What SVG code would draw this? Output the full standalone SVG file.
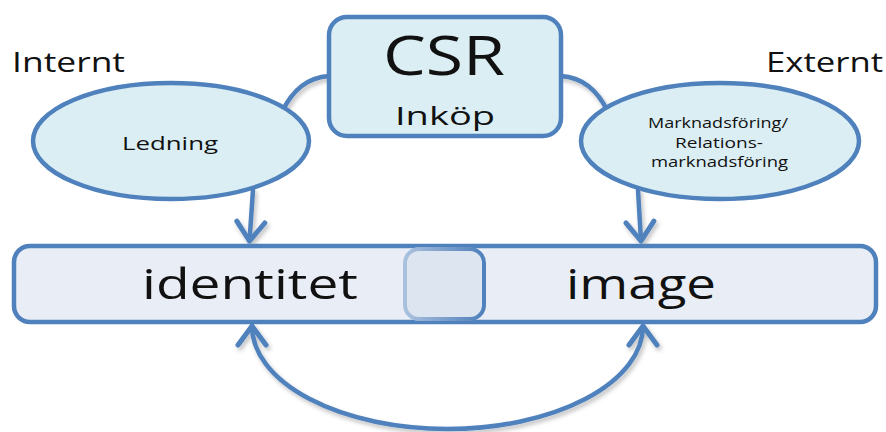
<svg xmlns="http://www.w3.org/2000/svg" width="886" height="432" viewBox="0 0 886 432">
  <style>
    .lbl { font-family: "Open Sans", "Liberation Sans", sans-serif; fill: #111; }
    .node { fill: #dbeef4; stroke: #4f81bd; stroke-width: 4.5; }
    .bar { fill: #e9eef6; stroke: #4f81bd; stroke-width: 4.5; }
    .conn { fill: none; stroke: #4f81bd; stroke-width: 4.5; stroke-linecap: round; }
  </style>
  <defs>
    <marker id="arr" markerUnits="userSpaceOnUse" orient="auto-start-reverse" refX="0" refY="0" markerWidth="40" markerHeight="40" viewBox="-25 -20 30 40" overflow="visible">
      <path d="M-19,-14 L0,0 L-19,14" fill="none" stroke="#4f81bd" stroke-width="5" stroke-linecap="round" stroke-linejoin="round"/>
    </marker>
    <filter id="sh" x="-20%" y="-20%" width="140%" height="140%">
      <feDropShadow dx="2" dy="3" stdDeviation="2" flood-color="#000" flood-opacity="0.25"/>
    </filter>
    <linearGradient id="midStroke" x1="0" y1="0" x2="1" y2="0">
      <stop offset="0" stop-color="#a9c1de"/>
      <stop offset="0.5" stop-color="#7c9fcc"/>
      <stop offset="1" stop-color="#4f81bd"/>
    </linearGradient>
  </defs>

  <g id="connectors" filter="url(#sh)">
    <path class="conn" d="M329,76 Q298,78 282,112"/>
    <path class="conn" d="M561,76 Q592,78 608,112"/>
    <path class="conn" d="M253,190 L249.5,241" marker-end="url(#arr)"/>
    <path class="conn" d="M638,190 L641,241" marker-end="url(#arr)"/>
    <path class="conn" d="M252,326 A195.5 103 0 0 0 643,326" marker-start="url(#arr)" marker-end="url(#arr)"/>
  </g>

  <g id="label-internt">
    <text class="lbl" x="12" y="72" font-size="27" textLength="113" lengthAdjust="spacingAndGlyphs">Internt</text>
  </g>
  <g id="label-externt">
    <text class="lbl" x="766" y="72" font-size="27" textLength="117" lengthAdjust="spacingAndGlyphs">Externt</text>
  </g>

  <g id="node-csr">
    <rect class="node" x="329" y="17" width="232" height="119" rx="18"/>
    <text class="lbl" x="383" y="75" font-size="54" textLength="122" lengthAdjust="spacingAndGlyphs">CSR</text>
    <text class="lbl" x="395" y="125" font-size="25" textLength="100" lengthAdjust="spacingAndGlyphs">Inköp</text>
  </g>

  <g id="node-ledning">
    <ellipse class="node" cx="171" cy="141" rx="138" ry="58"/>
    <text class="lbl" x="122" y="150" font-size="19" textLength="96" lengthAdjust="spacingAndGlyphs">Ledning</text>
  </g>

  <g id="node-marknad">
    <ellipse class="node" cx="720" cy="141" rx="139" ry="58"/>
    <text class="lbl" x="648" y="128" font-size="14" textLength="140" lengthAdjust="spacingAndGlyphs">Marknadsföring/</text>
    <text class="lbl" x="675" y="148" font-size="14" textLength="88" lengthAdjust="spacingAndGlyphs">Relations-</text>
    <text class="lbl" x="651" y="167" font-size="14" textLength="137" lengthAdjust="spacingAndGlyphs">marknadsföring</text>
  </g>

  <g id="node-bar">
    <rect class="bar" x="14" y="246" width="862" height="76" rx="16"/>
  </g>
  <g id="node-overlap">
    <rect x="405" y="249" width="79" height="70" rx="14" fill="#dde5f0" stroke="url(#midStroke)" stroke-width="4"/>
  </g>
  <g id="node-identitet">
    <text class="lbl" x="142" y="299" font-size="42" textLength="216" lengthAdjust="spacingAndGlyphs">identitet</text>
  </g>
  <g id="node-image">
    <text class="lbl" x="566" y="299" font-size="42" textLength="150" lengthAdjust="spacingAndGlyphs">image</text>
  </g>
</svg>
